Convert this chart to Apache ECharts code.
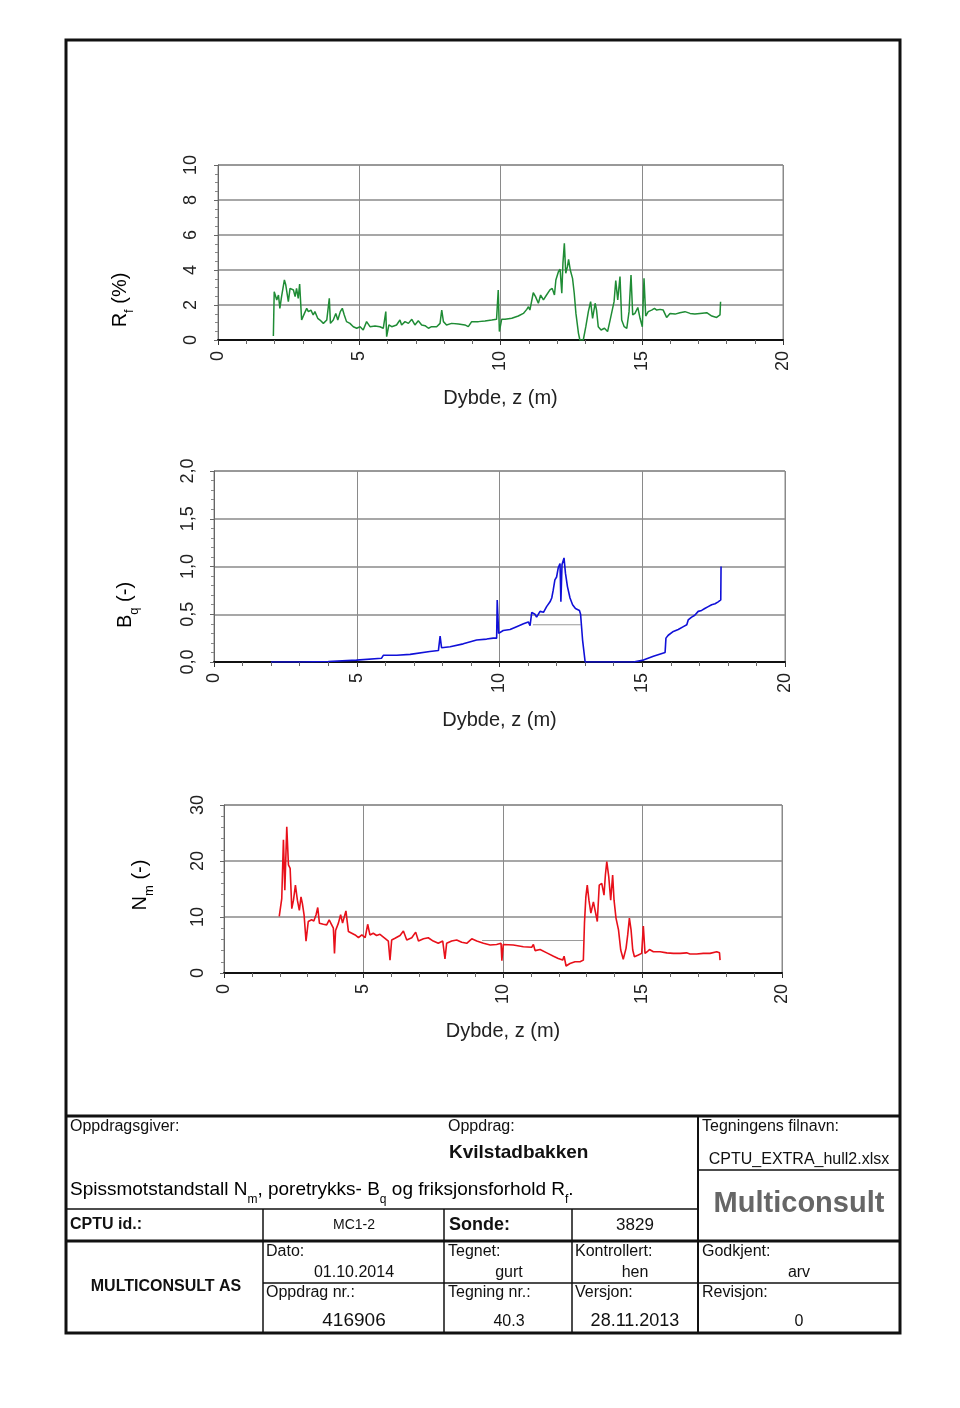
<!DOCTYPE html>
<html>
<head>
<meta charset="utf-8">
<script src="https://cdn.jsdelivr.net/npm/echarts@6/dist/echarts.min.js"></script>
<style>
html,body{margin:0;padding:0;background:#fff;}
#c{width:960px;height:1408px;}
</style>
</head>
<body>
<div id="c"></div>
<script>
// ---------- DATA ----------
const xTicks = [0, 5, 10, 15, 20];

const rfDepth = [1.96,1.99,2.08,2.14,2.19,2.25,2.35,2.40,2.49,2.55,2.61,2.67,2.73,2.78,2.84,2.89,2.96,3.06,3.14,3.20,3.29,3.37,3.43,3.53,3.61,3.73,3.85,3.91,3.94,3.98,4.08,4.17,4.24,4.33,4.40,4.47,4.55,4.67,4.79,4.91,5.03,5.14,5.26,5.38,5.56,5.73,5.85,5.94,5.97,6.05,6.15,6.32,6.44,6.50,6.62,6.74,6.86,6.97,7.09,7.21,7.33,7.45,7.56,7.74,7.86,7.92,7.98,8.09,8.27,8.51,8.74,8.86,8.98,9.22,9.45,9.69,9.86,9.92,9.96,10.04,10.16,10.40,10.63,10.81,10.93,10.99,11.04,11.16,11.24,11.34,11.42,11.52,11.63,11.75,11.83,11.91,11.96,12.05,12.11,12.17,12.21,12.26,12.31,12.37,12.41,12.47,12.55,12.61,12.67,12.76,12.81,12.93,13.02,13.11,13.19,13.26,13.35,13.40,13.46,13.56,13.68,13.79,13.88,13.94,14.02,14.08,14.15,14.23,14.29,14.38,14.47,14.55,14.62,14.68,14.76,14.86,14.94,15.02,15.08,15.14,15.23,15.35,15.45,15.53,15.65,15.76,15.88,16.00,16.18,16.35,16.53,16.71,16.88,17.06,17.30,17.48,17.65,17.77,17.79];
const rfValue = [0.23,2.76,2.29,2.57,1.81,2.48,3.43,3.14,2.19,2.95,3.05,2.86,2.48,2.95,2.38,3.20,1.14,1.52,1.81,1.62,1.71,1.43,1.62,1.24,1.14,0.95,1.14,1.05,2.38,0.95,1.14,1.52,1.14,1.62,1.81,1.43,1.05,0.95,0.76,0.67,0.76,0.57,1.05,0.76,0.80,0.76,0.67,1.62,0.19,0.86,0.76,0.86,1.14,0.86,1.05,0.95,1.18,0.86,1.10,0.86,0.82,0.67,0.76,0.76,0.95,1.71,1.05,0.86,0.95,0.91,0.86,0.76,1.05,1.05,1.09,1.14,1.18,2.86,0.48,1.18,1.18,1.24,1.37,1.52,1.75,1.90,1.71,2.70,2.48,2.10,2.57,2.29,2.57,2.86,2.95,2.57,3.43,3.90,4.04,2.67,4.38,5.52,3.81,4.19,4.61,4.00,3.52,2.67,1.52,0.38,0,0,0.76,1.62,2.19,1.24,2.10,1.71,0.76,0.57,0.67,0.48,1.14,1.24,2.19,3.39,2.29,3.62,1.14,0.76,0.67,1.62,3.71,1.43,1.52,1.86,1.24,0.76,3.52,1.37,1.62,1.71,1.81,1.71,1.75,1.71,1.29,1.52,1.48,1.56,1.62,1.52,1.48,1.52,1.56,1.37,1.29,1.43,2.19];

const bqDepth = [2.0,3.0,4.0,4.99,5.87,5.93,6.4,6.87,7.56,7.86,7.92,7.97,8.27,8.73,9.2,9.55,9.78,9.9,9.92,9.97,10.13,10.37,10.6,10.84,11.01,11.07,11.13,11.24,11.30,11.42,11.54,11.65,11.77,11.83,11.88,11.94,12.0,12.06,12.12,12.15,12.19,12.26,12.31,12.38,12.47,12.56,12.66,12.73,12.80,12.84,12.91,13.0,14.69,15.04,15.39,15.80,15.83,15.91,16.09,16.26,16.44,16.56,16.61,16.73,16.84,16.96,17.08,17.19,17.31,17.43,17.55,17.66,17.75,17.76];
const bqValue = [0.0,0.0,0.005,0.02,0.04,0.07,0.07,0.08,0.11,0.12,0.27,0.15,0.16,0.19,0.23,0.24,0.25,0.25,0.65,0.30,0.33,0.34,0.37,0.40,0.42,0.38,0.52,0.50,0.47,0.53,0.52,0.58,0.63,0.67,0.75,0.86,0.89,0.99,1.03,0.63,1.02,1.09,0.93,0.79,0.67,0.60,0.56,0.54,0.54,0.50,0.23,0,0,0.02,0.06,0.10,0.25,0.28,0.32,0.34,0.37,0.39,0.44,0.47,0.49,0.53,0.54,0.56,0.58,0.60,0.61,0.63,0.65,1.00];
const bqGhostDepth = [11.17, 12.84];
const bqGhostValue = [0.39, 0.39];

const nmDepth = [1.98,2.07,2.13,2.18,2.25,2.31,2.37,2.43,2.49,2.56,2.63,2.70,2.76,2.81,2.87,2.94,3.02,3.14,3.22,3.30,3.36,3.42,3.56,3.68,3.77,3.86,3.92,3.96,4.00,4.10,4.18,4.25,4.37,4.46,4.58,4.70,4.82,4.94,5.06,5.15,5.23,5.35,5.47,5.59,5.77,5.89,5.95,6.01,6.13,6.31,6.43,6.55,6.73,6.87,6.97,7.15,7.32,7.50,7.68,7.84,7.92,7.98,8.16,8.34,8.52,8.70,8.88,9.06,9.30,9.54,9.77,9.93,9.96,10.01,10.37,10.73,11.03,11.09,11.15,11.33,11.57,11.81,11.98,12.14,12.19,12.26,12.40,12.58,12.76,12.88,12.92,12.97,13.02,13.08,13.15,13.24,13.31,13.38,13.45,13.54,13.62,13.67,13.72,13.79,13.86,13.93,13.98,14.05,14.14,14.22,14.31,14.41,14.47,14.53,14.59,14.65,14.71,14.85,14.97,15.03,15.09,15.17,15.25,15.39,15.63,15.87,16.11,16.35,16.58,16.64,16.70,16.94,17.18,17.42,17.66,17.76,17.78];
const nmValue = [10.1,13.3,23.8,14.8,26.1,19.3,18.7,11.5,13.0,15.7,13.0,11.2,13.6,12.4,10.4,5.7,9.2,9.5,9.3,10.4,11.7,8.9,8.7,8.6,9.5,8.6,8.0,3.5,7.6,8.9,10.4,8.9,11.1,7.4,7.1,6.8,6.3,6.8,6.3,8.7,6.8,7.1,6.7,6.9,6.2,5.7,2.3,5.9,6.2,6.7,7.5,5.9,6.3,7.3,5.7,6.1,6.3,5.7,5.3,5.7,2.5,5.3,5.7,5.9,5.5,5.3,6.1,5.7,5.3,5.0,5.1,5.3,2.2,5.1,5.0,4.7,4.6,5.1,4.0,4.2,3.6,3.0,2.6,2.3,3.0,1.25,1.7,2.0,2.0,2.3,8.9,13.6,15.7,13.0,10.7,12.7,13.0,9.2,15.7,16.0,13.9,17.5,19.9,17.2,13.0,17.5,13.0,9.8,7.7,4.1,2.45,4.4,6.8,9.8,7.7,4.1,2.9,3.2,3.5,8.4,3.5,3.8,4.2,3.8,3.8,3.6,3.5,3.5,3.6,3.8,3.4,3.4,3.5,3.5,3.8,3.6,2.3];
const nmGhostDepth = [9.25, 12.9];
const nmGhostValue = [5.8, 5.8];

const rfTicks = [0, 2, 4, 6, 8, 10];
const bqTicks = [0, 0.5, 1.0, 1.5, 2.0];
const nmTicks = [0, 10, 20, 30];

// ---------- BUILD ----------
const zip = (a, b) => a.map((v, i) => [v, b[i]]);
const FONT = 'Liberation Sans, Arial, Helvetica, sans-serif';
const chart = echarts.init(document.getElementById('c'), null, {renderer: 'canvas'});

const grids = [
  {left: 218, top: 165, width: 565, height: 175},
  {left: 214, top: 471, width: 571, height: 191},
  {left: 224, top: 805, width: 558, height: 168}
];

function xAx(i) {
  return {
    type: 'value', gridIndex: i, min: xTicks[0], max: xTicks[xTicks.length - 1], interval: 5,
    name: 'Dybde, z (m)', nameLocation: 'middle', nameGap: 48,
    nameTextStyle: {fontFamily: FONT, fontSize: 20, color: '#222'},
    axisLine: {onZero: false, lineStyle: {color: '#111', width: 2}},
    axisTick: {show: true, length: 5, lineStyle: {color: '#333'}},
    minorTick: {show: true, splitNumber: 5, length: 4, lineStyle: {color: '#666'}},
    splitLine: {show: true, lineStyle: {color: '#8a8a8a', width: 1}},
    axisLabel: {rotate: 90, fontFamily: FONT, fontSize: 18, color: '#222', margin: 11, showMinLabel: true, showMaxLabel: true}
  };
}
function yAx(i, ticks, fmt, minorN, margin) {
  return {
    type: 'value', gridIndex: i, min: ticks[0], max: ticks[ticks.length - 1],
    interval: ticks[1] - ticks[0],
    axisLine: {show: true, lineStyle: {color: '#666', width: 1}},
    axisTick: {show: true, length: 4, lineStyle: {color: '#666'}},
    minorTick: {show: true, splitNumber: minorN, length: 3, lineStyle: {color: '#888'}},
    splitLine: {show: true, lineStyle: {color: '#8a8a8a', width: 1.5}},
    axisLabel: {rotate: 90, fontFamily: FONT, fontSize: 18, color: '#222', margin: margin, formatter: fmt, showMinLabel: true, showMaxLabel: true}
  };
}

const graphics = [];
const L = (x1, y1, x2, y2, w) => graphics.push({type: 'line', shape: {x1, y1, x2, y2}, style: {stroke: '#111', lineWidth: w || 1.5}, silent: true});
const T = (x, y, text, opt) => graphics.push({type: 'text', x, y, silent: true, style: Object.assign({text, font: (opt && opt.font) || ('16px ' + FONT), fill: '#111', textAlign: 'left', textVerticalAlign: 'middle'}, opt || {})});

// outer frame
graphics.push({type: 'rect', shape: {x: 66, y: 40, width: 834, height: 1293}, style: {fill: 'none', stroke: '#111', lineWidth: 3}, silent: true});

// rotated y-axis names (rich text for subscripts)
function yName(x, y, main, sub, tail) {
  graphics.push({
    type: 'text', x, y, rotation: Math.PI / 2, silent: true,
    style: {
      text: '{m|' + main + '}{s|' + sub + '}{m|' + tail + '}',
      textAlign: 'center', textVerticalAlign: 'middle',
      rich: {
        m: {fontFamily: FONT, fontSize: 20, color: '#222', lineHeight: 25, verticalAlign: 'top'},
        s: {fontFamily: FONT, fontSize: 13, color: '#222', lineHeight: 25, verticalAlign: 'bottom'}
      }
    }
  });
}
yName(123, 300, 'R', 'f', ' (%)');
yName(128, 605, 'B', 'q', ' (-)');
yName(143, 885, 'N', 'm', ' (-)');

// title block lines
L(66, 1116, 900, 1116, 3);
L(698, 1116, 698, 1333, 2);
L(698, 1170, 900, 1170, 1.5);
L(66, 1209, 698, 1209, 1.5);
L(66, 1241, 900, 1241, 3);
L(263, 1209, 263, 1333, 1.5);
L(444, 1209, 444, 1333, 1.5);
L(572, 1209, 572, 1333, 1.5);
L(263, 1283, 900, 1283, 1.5);

// title block texts
T(70, 1127, 'Oppdragsgiver:');
T(448, 1127, 'Oppdrag:');
T(449, 1153, 'Kvilstadbakken', {font: 'bold 19px ' + FONT});
T(702, 1127, 'Tegningens filnavn:');
T(799, 1160, 'CPTU_EXTRA_hull2.xlsx', {textAlign: 'center'});
T(799, 1204, 'Multiconsult', {textAlign: 'center', font: 'bold 29px ' + FONT, fill: '#666'});
graphics.push({
  type: 'text', x: 70, y: 1193, silent: true,
  style: {
    text: '{m|Spissmotstandstall N}{s|m}{m|, poretrykks- B}{s|q}{m| og friksjonsforhold R}{s|f}{m|.}',
    textAlign: 'left', textVerticalAlign: 'middle',
    rich: {
      m: {fontFamily: FONT, fontSize: 19, color: '#111', lineHeight: 25, verticalAlign: 'top'},
      s: {fontFamily: FONT, fontSize: 12, color: '#111', lineHeight: 25, verticalAlign: 'bottom'}
    }
  }
});
T(70, 1225, 'CPTU id.:', {font: 'bold 16px ' + FONT});
T(354, 1225, 'MC1-2', {textAlign: 'center', font: '14px ' + FONT});
T(449, 1225, 'Sonde:', {font: 'bold 18px ' + FONT});
T(635, 1225, '3829', {textAlign: 'center', font: '17px ' + FONT});
T(166, 1287, 'MULTICONSULT AS', {textAlign: 'center', font: 'bold 16px ' + FONT});
T(266, 1252, 'Dato:');
T(354, 1273, '01.10.2014', {textAlign: 'center'});
T(448, 1252, 'Tegnet:');
T(509, 1273, 'gurt', {textAlign: 'center'});
T(575, 1252, 'Kontrollert:');
T(635, 1273, 'hen', {textAlign: 'center'});
T(702, 1252, 'Godkjent:');
T(799, 1273, 'arv', {textAlign: 'center'});
T(266, 1293, 'Oppdrag nr.:');
T(354, 1321, '416906', {textAlign: 'center', font: '19px ' + FONT});
T(448, 1293, 'Tegning nr.:');
T(509, 1322, '40.3', {textAlign: 'center', font: '16px ' + FONT});
T(575, 1293, 'Versjon:');
T(635, 1321, '28.11.2013', {textAlign: 'center', font: '18px ' + FONT});
T(702, 1293, 'Revisjon:');
T(799, 1322, '0', {textAlign: 'center'});

const lineSeries = (i, data, color, w) => ({
  type: 'line', xAxisIndex: i, yAxisIndex: i, data, showSymbol: false, symbol: 'none',
  lineStyle: {color, width: w}, animation: false, silent: true, clip: true
});

chart.setOption({
  backgroundColor: '#fff',
  animation: false,
  grid: grids.map(g => Object.assign({show: true, borderColor: '#8a8a8a', borderWidth: 1, backgroundColor: 'transparent'}, g)),
  xAxis: [xAx(0), xAx(1), xAx(2)],
  yAxis: [
    yAx(0, rfTicks, v => String(v), 4, 18),
    yAx(1, bqTicks, v => v.toFixed(1).replace('.', ','), 5, 17),
    yAx(2, nmTicks, v => String(v), 5, 17)
  ],
  series: [
    lineSeries(0, zip(rfDepth, rfValue), '#1f8c35', 1.5),
    lineSeries(1, zip(bqGhostDepth, bqGhostValue), '#9a9a9a', 1),
    lineSeries(1, zip(bqDepth, bqValue), '#1010d8', 1.6),
    lineSeries(2, zip(nmGhostDepth, nmGhostValue), '#9a9a9a', 1),
    lineSeries(2, zip(nmDepth, nmValue), '#e8101a', 1.6)
  ],
  graphic: graphics
});
</script>
</body>
</html>
